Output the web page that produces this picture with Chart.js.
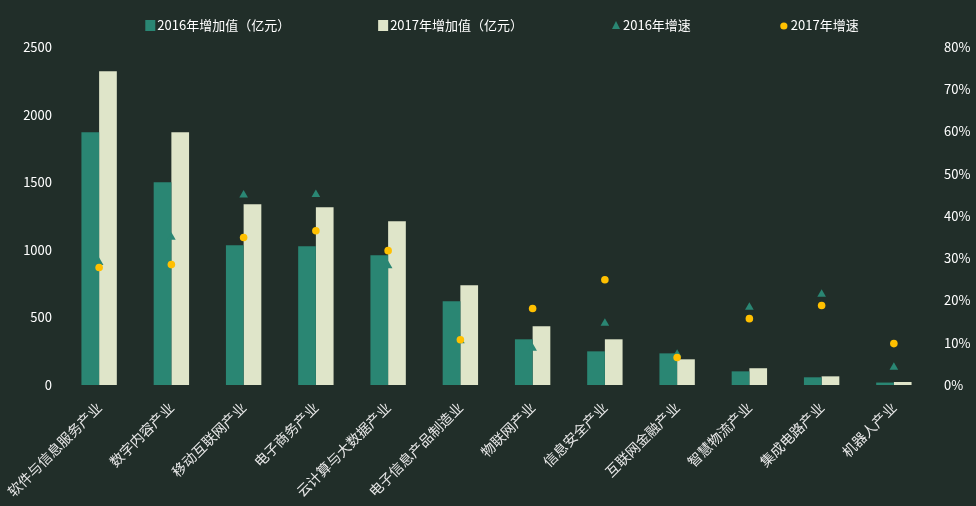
<!DOCTYPE html>
<html>
<head>
<meta charset="utf-8">
<script src="https://cdn.jsdelivr.net/npm/chart.js@4"></script>
<style>
  html, body { margin: 0; padding: 0; background: #212e29; }
  #wrap { width: 976px; height: 506px; }
</style>
</head>
<body>
<div id="wrap"><canvas id="chart"></canvas></div>
<script>
// categorias e valores
const categorias = ['软件与信息服务产业', '数字内容产业', '移动互联网产业', '电子商务产业', '云计算与大数据产业',
    '电子信息产品制造业', '物联网产业', '信息安全产业', '互联网金融产业', '智慧物流产业', '集成电路产业', '机器人产业'];
const valor2016 = [1869, 1499, 1033, 1026, 959, 619, 338, 249, 234, 101, 57, 18];
const valor2017 = [2320, 1870, 1337, 1314, 1211, 737, 434, 338, 190, 124, 64, 22];
const taxa2016 = [29.0, 35.0, 45.0, 45.1, 28.2, 10.5, 8.7, 14.6, 7.3, 18.4, 21.5, 4.2];
const taxa2017 = [27.8, 28.5, 34.9, 36.5, 31.8, 10.7, 18.1, 24.9, 6.5, 15.7, 18.8, 9.8];
const ticksEsquerda = [0, 500, 1000, 1500, 2000, 2500];
const ticksDireita = [0, 10, 20, 30, 40, 50, 60, 70, 80];

const fonte = '"Noto Sans CJK SC", "Noto Sans", sans-serif';
const corTexto = '#ffffff';

// legenda desenhada à mão, para ter o espaçamento largo do original
const legendaPlugin = {
    id: 'legendaManual',
    afterDraw(chart) {
        const ctx = chart.ctx;
        const itens = chart.data.datasets;
        const gap = 87;
        ctx.save();
        ctx.font = '13px ' + fonte;
        ctx.textBaseline = 'middle';
        const larguras = itens.map(d => 13 + ctx.measureText(d.label).width);
        const total = larguras.reduce((a, b) => a + b, 0) + gap * (itens.length - 1);
        let x = (chart.chartArea.left + chart.chartArea.right) / 2 - total / 2 + 6;
        const y = 25;
        itens.forEach((d, i) => {
            ctx.fillStyle = d.legendColor;
            if (d.legendShape === 'rect') {
                ctx.fillRect(x, y - 5, 10, 11);
            } else if (d.legendShape === 'triangle') {
                ctx.beginPath();
                ctx.moveTo(x + 5, y - 4);
                ctx.lineTo(x + 9, y + 4);
                ctx.lineTo(x + 1, y + 4);
                ctx.closePath();
                ctx.fill();
            } else {
                ctx.beginPath();
                ctx.arc(x + 5, y + 1, 3.6, 0, Math.PI * 2);
                ctx.fill();
            }
            ctx.fillStyle = corTexto;
            ctx.fillText(d.label, x + 12, y);
            x += larguras[i] + gap;
        });
        ctx.restore();
    }
};

const ctx = document.getElementById('chart').getContext('2d');
const grafico = new Chart(ctx, {
    type: 'bar',
    data: {
        labels: categorias,
        datasets: [{
            label: '2016年增加值（亿元）',
            data: valor2016,
            backgroundColor: '#2a8673',
            legendColor: '#2a8673',
            legendShape: 'rect',
            yAxisID: 'y',
            categoryPercentage: 0.49,
            barPercentage: 1.0,
            order: 2
        }, {
            label: '2017年增加值（亿元）',
            data: valor2017,
            backgroundColor: '#dfe5c9',
            legendColor: '#dfe5c9',
            legendShape: 'rect',
            yAxisID: 'y',
            categoryPercentage: 0.49,
            barPercentage: 1.0,
            order: 2
        }, {
            type: 'line',
            label: '2016年增速',
            data: taxa2016,
            showLine: false,
            pointStyle: 'triangle',
            pointRadius: 5,
            backgroundColor: '#2a8673',
            borderColor: '#2a8673',
            borderWidth: 0,
            legendColor: '#2a8673',
            legendShape: 'triangle',
            yAxisID: 'y1',
            order: 1
        }, {
            type: 'line',
            label: '2017年增速',
            data: taxa2017,
            showLine: false,
            pointStyle: 'circle',
            pointRadius: 3.8,
            backgroundColor: '#ffc000',
            borderColor: '#ffc000',
            borderWidth: 0,
            legendColor: '#ffc000',
            legendShape: 'circle',
            yAxisID: 'y1',
            order: 0
        }]
    },
    options: {
        responsive: true,
        maintainAspectRatio: false,
        animation: false,
        layout: { padding: { top: 47, left: 0, right: 0, bottom: 0 } },
        plugins: {
            legend: { display: false },
            tooltip: { enabled: false }
        },
        scales: {
            x: {
                grid: { display: false },
                border: { display: false },
                ticks: {
                    color: '#e8e8e8',
                    font: { size: 14, family: fonte },
                    maxRotation: 45,
                    minRotation: 45,
                    padding: 6,
                    autoSkip: false
                },
                afterFit(scale) { scale.height = 121; }
            },
            y: {
                position: 'left',
                min: 0,
                max: 2500,
                afterBuildTicks(scale) { scale.ticks = ticksEsquerda.map(v => ({ value: v })); },
                grid: { display: false },
                border: { display: false },
                ticks: {
                    color: corTexto,
                    font: { size: 13, family: fonte },
                    padding: 3,
                    callback: v => String(v)
                },
                afterFit(scale) { scale.width = 63; }
            },
            y1: {
                position: 'right',
                min: 0,
                max: 80,
                afterBuildTicks(scale) { scale.ticks = ticksDireita.map(v => ({ value: v })); },
                grid: { display: false },
                border: { display: false },
                ticks: {
                    color: corTexto,
                    font: { size: 13, family: fonte },
                    padding: 6,
                    callback: v => v + '%'
                },
                afterFit(scale) { scale.width = 46; }
            }
        }
    },
    plugins: [legendaPlugin]
});
</script>
</body>
</html>
